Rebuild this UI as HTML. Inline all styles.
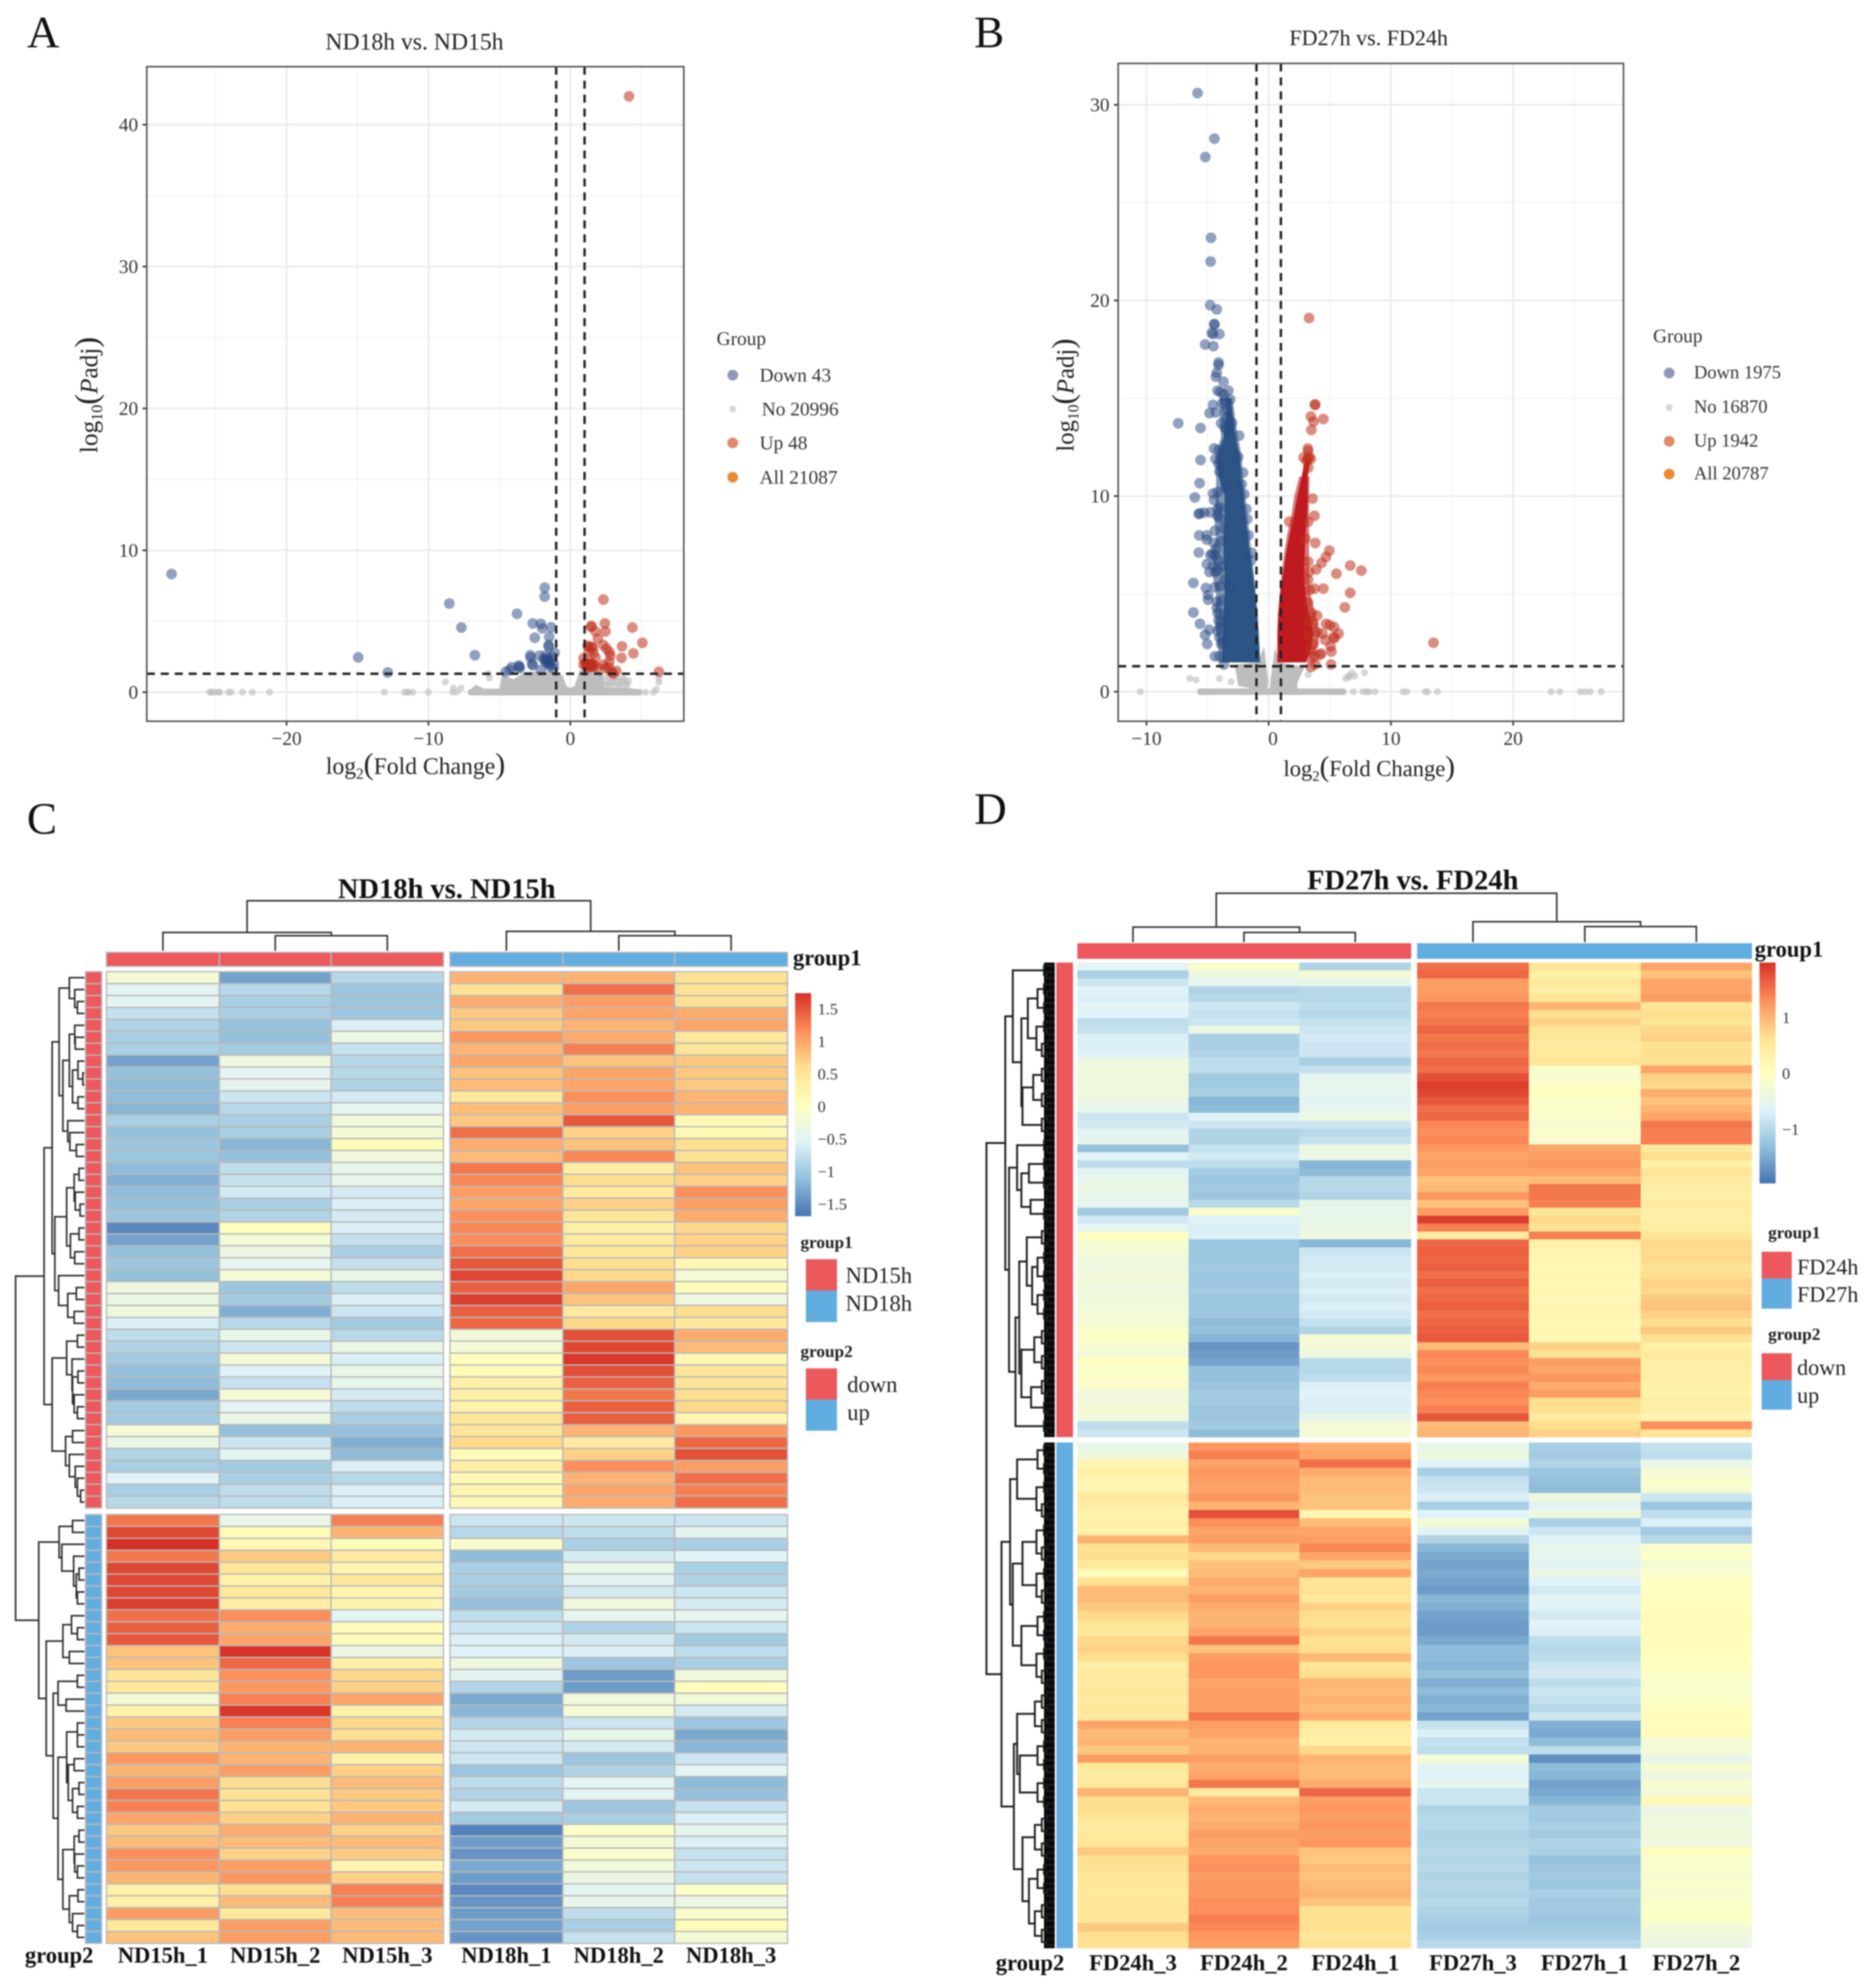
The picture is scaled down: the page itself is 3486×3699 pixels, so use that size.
<!DOCTYPE html>
<html lang="en">
<head>
<meta charset="utf-8">
<title>Volcano plots and heatmaps</title>
<style>
html,body{margin:0;padding:0;background:#fff;}
svg{display:block;filter:blur(1.3px);font-family:"Liberation Serif",serif;}
text{fill:#222;}
.tick{font-size:36px;fill:#333;}
.leg{font-size:36px;fill:#333;}
.legb{font-size:34.5px;fill:#333;}
.ttl{font-size:41px;fill:#222;text-anchor:middle;}
.axt{font-size:42px;fill:#222;text-anchor:middle;}
.letter{font-size:84px;fill:#111;}
.bold{font-weight:bold;fill:#111;}
.hmt{font-size:53px;font-weight:bold;text-anchor:middle;fill:#111;}
.coll{font-size:42px;font-weight:bold;text-anchor:middle;fill:#111;}
.lt{font-size:32px;font-weight:bold;fill:#222;}
.ll{font-size:42px;fill:#222;}
.cb{font-size:30px;fill:#333;}
</style>
</head>
<body>
<svg id="figure" xmlns="http://www.w3.org/2000/svg" width="3486" height="3699" viewBox="0 0 3486 3699">
<rect x="0" y="0" width="3486" height="3699" fill="#ffffff"/>

<text class="letter" x="50" y="88">A</text>
<text class="letter" x="1812" y="88">B</text>
<text class="letter" x="50" y="1551">C</text>
<text class="letter" x="1812" y="1533">D</text>

<g id="panelA"></g>
<text class="ttl" x="771" y="92" style="font-size:44px">ND18h vs. ND15h</text>
<text class="axt" x="773" y="1440" style="font-size:44px">log<tspan font-size="28" dy="9">2</tspan><tspan font-size="56" dy="-9">(</tspan>Fold Change<tspan font-size="56">)</tspan></text>
<text class="axt" transform="translate(181 735) rotate(-90)" style="font-size:47px">log<tspan font-size="30" dy="9">10</tspan><tspan font-size="60" dy="-9">(</tspan><tspan font-style="italic">P</tspan>adj<tspan font-size="60">)</tspan></text>
<g>
<text class="leg" x="1333" y="642">Group</text>
<circle cx="1363" cy="698" r="10" fill="#8F97BC"/>
<text class="leg" x="1413" y="710">Down 43</text>
<circle cx="1363" cy="761" r="6.5" fill="#D8D8D8"/>
<text class="leg" x="1417" y="773">No 20996</text>
<circle cx="1363" cy="824" r="10" fill="#DF8A6A"/>
<text class="leg" x="1413" y="836">Up 48</text>
<circle cx="1363" cy="888" r="10" fill="#EB8A35"/>
<text class="leg" x="1413" y="900">All 21087</text>
</g>

<g id="panelB"></g>
<text class="ttl" x="2546" y="84">FD27h vs. FD24h</text>
<text class="axt" x="2547" y="1444">log<tspan font-size="27" dy="9">2</tspan><tspan font-size="54" dy="-9">(</tspan>Fold Change<tspan font-size="54">)</tspan></text>
<text class="axt" transform="translate(1997 735) rotate(-90)" style="font-size:46px">log<tspan font-size="29" dy="9">10</tspan><tspan font-size="58" dy="-9">(</tspan><tspan font-style="italic">P</tspan>adj<tspan font-size="58">)</tspan></text>
<g>
<text class="leg" x="3075" y="637">Group</text>
<circle cx="3105" cy="694" r="10" fill="#8F97BC"/>
<text class="legb" x="3151" y="704">Down 1975</text>
<circle cx="3105" cy="758" r="6.5" fill="#D8D8D8"/>
<text class="legb" x="3151" y="768">No 16870</text>
<circle cx="3105" cy="821" r="10" fill="#DF8A6A"/>
<text class="legb" x="3151" y="831">Up 1942</text>
<circle cx="3105" cy="882" r="10" fill="#EB8A35"/>
<text class="legb" x="3151" y="892">All 20787</text>
</g>

<g id="panelC"></g>
<text class="hmt" x="831" y="1671">ND18h vs. ND15h</text>
<text class="coll bold" x="1475" y="1796" style="text-anchor:start">group1</text>
<text class="coll bold" x="110" y="3652">group2</text>
<g>
<text class="lt" x="1489" y="2322">group1</text>
<rect x="1499" y="2343" width="58" height="58" fill="#EC585C"/>
<rect x="1499" y="2401" width="58" height="59" fill="#62ADE0"/>
<text class="ll" x="1573" y="2387">ND15h</text>
<text class="ll" x="1573" y="2439">ND18h</text>
<text class="lt" x="1489" y="2525">group2</text>
<rect x="1499" y="2546" width="58" height="58" fill="#EC585C"/>
<rect x="1499" y="2604" width="58" height="58" fill="#62ADE0"/>
<text class="ll" x="1576" y="2590">down</text>
<text class="ll" x="1576" y="2642">up</text>
</g>

<g id="panelD"></g>
<text class="hmt" x="2628" y="1655">FD27h vs. FD24h</text>
<text class="coll bold" x="3264" y="1780" style="text-anchor:start">group1</text>
<text class="coll bold" x="1916" y="3666">group2</text>
<g>
<text class="lt" x="3289" y="2304">group1</text>
<rect x="3277" y="2329" width="56" height="50" fill="#EC585C"/>
<rect x="3277" y="2379" width="56" height="56" fill="#62ADE0"/>
<text class="ll" x="3343" y="2371" style="font-size:41px">FD24h</text>
<text class="ll" x="3343" y="2422" style="font-size:41px">FD27h</text>
<text class="lt" x="3289" y="2493">group2</text>
<rect x="3277" y="2518" width="56" height="50" fill="#EC585C"/>
<rect x="3277" y="2568" width="56" height="55" fill="#62ADE0"/>
<text class="ll" x="3343" y="2558" style="font-size:41px">down</text>
<text class="ll" x="3343" y="2610" style="font-size:41px">up</text>
</g>
</svg>

<script>
/* ---------- Panel A data ---------- */
const aXMajor=[-20,-10,0];
const aXMinor=[-25,-15,-5,5];
const aYMajor=[0,10,20,30,40];
const aYMinor=[5,15,25,35];
const aDown=[[-28.1,8.33],[-14.95,2.46],[-12.87,1.39],[-8.53,6.25],[-7.68,4.56],[-6.73,2.61],[-3.76,5.53],[-1.81,7.37],[-1.81,6.74],[-2.65,4.85],[-2.08,4.82],[-1.98,4.5],[-1.35,4.57],[-2.51,3.84],[-1.49,3.9],[-1.53,3.33],[-1.53,3.2],[-2.82,2.61],[-2.8,2.45],[-2.7,2.0],[-2.65,1.9],[-2.16,2.58],[-1.88,2.32],[-1.6,2.39],[-1.46,2.2],[-1.6,2.07],[-1.32,2.51],[-1.11,2.77],[-1.46,1.82],[-1.18,1.69],[-2.09,1.57],[-3.64,1.88],[-3.57,1.69],[-4.13,1.76],[-4.27,1.57],[-4.55,1.44],[-1.74,2.58],[-1.74,2.13],[-1.18,2.0],[-1.6,2.2],[-1.46,2.0],[-1.74,2.3],[-3.6,1.8]];
const aUp=[[4.13,42],[2.33,6.53],[2.43,4.85],[1.49,4.68],[4.37,4.56],[1.77,4.28],[2.47,4.28],[1.94,3.78],[5.07,3.48],[3.64,3.23],[1.21,3.27],[1.49,3.2],[2.33,3.33],[2.54,3.08],[4.44,2.74],[3.6,2.42],[2.75,2.83],[2.82,2.58],[1.63,2.77],[1.28,2.83],[0.93,2.39],[1.77,2.45],[2.75,2.13],[2.33,1.94],[1.07,2.07],[1.28,1.94],[1.49,2.0],[1.14,1.82],[1.63,1.82],[1.42,1.76],[1.91,1.76],[0.93,1.94],[2.47,1.69],[2.68,1.76],[2.89,1.44],[3.24,1.5],[3.03,1.31],[6.24,1.44],[1.2,2.0],[1.35,1.9],[1.5,1.85],[1.25,1.8],[1.45,2.05],[1.6,1.95],[1.1,1.95],[1.3,3.2],[1.6,3.15],[1.45,4.6]];
const aNo=[[-25.4,0],[-25.3,0],[-25.1,0],[-24.8,0],[-24.7,0],[-24.1,0],[-23.9,0],[-23.1,0],[-22.4,0],[-21.2,0],[-13.1,0],[-11.7,0],[-11.5,0],[-11.4,0],[-11.1,0],[-10,0],[-8.8,0.72],[-8.3,0],[-8.25,0.3],[-7.7,0.3],[-8,0.02],[-5.77,1.31],[-5.7,1.0],[5.3,0],[5.85,0],[6.05,0.2],[6.24,0.95],[6.24,0.7],[3.2,1.1],[3.5,0.8],[3.7,1.0],[3.9,0.6],[3.4,0.5],[3.0,1.0],[2.8,0.7],[4.0,0.5],[2.6,1.1],[2.5,0.8],[2.7,0.45],[3.1,0.45],[3.3,0.75],[3.6,0.45],[2.9,1.25],[3.8,0.85],[2.55,0.5],[3.0,0.7],[4.1,0.8]];
const aNoMoundX=[-7,-6.94,-6.66,-6.1,-5.0,-4.83,-3.99,-3.15,-1.18,-0.55,-0.27,0,0.29,0.65,2.19,2.33,2.4,4.16,4.86,4.86];
const aNoMoundY=[0,0.3,0.53,0.25,0.25,1.19,0.93,1.44,1.44,1.19,0.43,0.3,0.43,1.56,1.44,1.25,0.3,0.3,0.18,0];

/* ---------- Panel B data ---------- */
const bXMajor=[-10,0,10,20];
const bXMinor=[-5,5,15,25];
const bYMajor=[0,10,20,30];
const bYMinor=[5,15,25];
const bDown=[[-5.82,30.6],[-4.44,28.27],[-5.18,27.33],[-4.72,23.2],[-4.75,21.99],[-4.79,19.76],[-4.25,19.54],[-4.46,18.79],[-4.43,18.77],[-4.66,18.34],[-4.03,18.28],[-4.55,18.28],[-5.2,17.75],[-4.52,17.66],[-4.1,16.83],[-4.1,16.7],[-4.25,16.3],[-4.33,16.1],[-3.7,15.85],[-3.96,15.32],[-3.3,15.39],[-3.67,15.2],[-4.18,15.39],[-3.15,14.93],[-4.55,14.66],[-3.81,14.73],[-4.84,14.24],[-4.33,14.27],[-3.45,14.4],[-3.6,14.9],[-3.4,14.0],[-7.4,13.72],[-5.57,13.48],[-3.89,13.72],[-3.0,13.74],[-2.42,13.09],[-3.37,13.35],[-3.6,13.5],[-4.47,12.43],[-4.1,12.37],[-2.49,12.0],[-5.57,11.84],[-5.65,10.66],[-6.04,9.93],[-4.55,10.13],[-4.18,10.2],[-4.47,9.8],[-5.72,9.08],[-5.65,9.12],[-5.28,9.15],[-4.77,9.17],[-4.18,9.34],[-1.83,9.34],[-1.76,8.82],[-3.96,8.88],[-5.69,7.99],[-5.06,7.99],[-5.06,7.77],[-4.4,8.23],[-4.47,7.6],[-5.72,7.11],[-4.62,7.04],[-4.77,6.98],[-4.4,6.98],[-1.39,7.11],[-5.06,6.52],[-4.84,6.12],[-4.4,6.12],[-4.18,6.19],[-4.55,6.45],[-6.16,5.56],[-5.13,5.3],[-4.4,5.34],[-3.96,5.4],[-3.23,5.34],[-4.96,4.94],[-4.96,4.7],[-6.16,4.05],[-4.25,4.28],[-4.18,4.02],[-3.67,3.96],[-3.81,3.56],[-5.62,3.47],[-4.87,3.17],[-4.18,3.1],[-5.2,2.9],[-4.03,2.77],[-5.03,2.44],[-3.74,2.58],[-4.4,1.81],[-4.03,1.81],[-3.67,1.39],[-4.03,11.25],[-4.1,11.64],[-3.52,10.46],[-3.96,9.41],[-3.67,8.36],[-3.81,7.7],[-3.74,6.39],[-3.59,5.73],[-3.81,4.68],[-4.1,3.63],[-3.89,2.44],[-4.2,9.0],[-4.3,7.3],[-4.1,6.7],[-4.25,4.6],[-4.0,3.3],[-4.35,11.9],[-2.2,10.6],[-2.0,10.1],[-1.65,8.0],[-1.45,6.7],[-2.1,11.2]];
const bDownHaloY=[1.5,2,3,4,5,6,7,8,9,10,11,12,13,14,15];
const bDownHaloLeft=[-4.1,-4.1,-4.3,-4.4,-4.3,-4.6,-4.6,-4.3,-4.5,-4.3,-4.3,-4.4,-3.9,-4.0,-4.0];
const bDownHaloRight=[-0.7,-0.72,-0.8,-0.9,-1.05,-1.2,-1.4,-1.55,-1.75,-1.9,-2.1,-2.2,-2.5,-2.75,-2.95];
const bDownCoreY=[1.5,2,3,4,5,6,7,8,9,10,11,12,13,14,15];
const bDownCoreLeft=[-3.85,-3.8,-3.75,-3.7,-3.6,-3.6,-3.7,-3.7,-3.6,-3.6,-4.1,-4.25,-3.7,-3.5,-3.4];
const bDownCoreRight=[-0.73,-0.76,-0.85,-0.95,-1.1,-1.3,-1.55,-1.7,-1.9,-2.05,-2.27,-2.35,-2.7,-2.9,-3.1];
const bUp=[[3.3,19.1],[3.81,14.66],[3.78,14.68],[3.45,14.07],[4.47,13.94],[3.67,13.81],[3.49,13.38],[3.2,12.43],[3.23,12.3],[3.2,11.9],[2.86,11.97],[3.45,11.9],[3.23,11.45],[3.1,11.8],[3.3,12.0],[3.59,9.87],[3.74,8.99],[3.81,7.6],[4.96,7.21],[4.69,6.89],[4.33,6.58],[3.89,6.25],[3.3,6.12],[3.23,6.65],[1.69,8.69],[6.67,6.45],[7.58,6.19],[5.54,6.03],[6.67,5.05],[6.23,4.31],[4.47,5.27],[3.74,5.27],[3.23,5.73],[3.37,5.2],[3.96,3.89],[3.52,4.02],[4.69,3.47],[5.35,3.3],[5.72,2.97],[5.28,2.77],[5.06,2.31],[5.13,2.05],[4.18,1.89],[5.1,1.39],[4.62,2.64],[3.96,3.04],[3.67,3.5],[3.23,2.9],[3.23,3.63],[3.67,2.44],[3.37,2.12],[3.74,1.79],[3.45,1.26],[4.4,2.97],[3.81,1.39],[3.23,4.55],[3.0,7.83],[3.23,8.69],[13.48,2.5],[5.0,3.4],[5.4,2.75],[4.3,1.95]];
const bUpHaloY=[1.5,2,3,4,5,6,7,8,9,10,11];
const bUpHaloLeft=[0.7,0.7,0.7,0.75,0.9,1.05,1.25,1.5,1.85,2.1,2.5];
const bUpHaloRight=[3.8,3.9,4.2,3.8,3.4,3.3,3.3,3.3,3.3,3.3,3.35];
const bUpCoreY=[1.5,2,3,4,5,6,7,8,9,10,11,11.8];
const bUpCoreLeft=[0.73,0.73,0.73,0.8,0.95,1.17,1.4,1.7,2.05,2.35,2.7,2.95];
const bUpCoreRight=[3.0,3.4,3.66,3.3,3.0,2.9,2.95,3.0,3.15,3.2,3.2,3.4];
const bNo=[[-10.5,0],[6.94,0],[7.7,0],[8.0,0],[8.2,0],[8.7,0],[11,0],[11.3,0],[12.8,0],[13,0],[13.8,0],[23.1,0],[23.8,0],[25.5,0],[25.9,0],[26.3,0],[27.2,0],[-6.45,0.67],[-5.94,0.6],[-4.03,0.67],[-3.08,0.51],[3.23,0.87],[6.3,0.67],[6.52,0.8],[6.82,0.97],[7.04,0.8],[7.84,0.97],[6.6,0.75]];
const bNoLeftX=[-2.79,-0.9,-0.37,-0.03,-0.18,-2.49];
const bNoLeftY=[1.39,1.5,2.3,0.47,0,0.3];
const bNoRightX=[0.15,0.51,0.9,2.93,2.35,2.35,0.1];
const bNoRightY=[0.6,2.25,1.5,1.26,0.47,0.1,0];

/* ---------- Panel C data (z-scores, six samples per gene) ---------- */
const cColumns=['ND15h_1','ND15h_2','ND15h_3','ND18h_1','ND18h_2','ND18h_3'];
const cDownRows=[
[-0.2,-1.35,-0.85,0.9,0.9,0.55],[-0.5,-0.85,-1.05,0.55,1.35,0.55],[-0.5,-0.95,-1.05,0.95,1.05,0.55],
[-0.75,-0.95,-1.05,0.75,1.0,0.95],[-0.9,-1.1,-0.6,0.75,0.9,1.0],[-0.95,-1.1,-0.35,1.1,0.95,0.45],
[-0.95,-1.0,-0.75,0.9,1.25,0.5],[-1.35,-0.3,-0.85,1.0,0.8,0.75],[-1.1,-0.5,-0.85,0.8,1.0,0.75],
[-1.15,-0.45,-0.9,0.85,1.0,0.75],[-1.15,-0.7,-0.65,0.45,1.15,0.9],[-1.2,-0.85,-0.45,0.85,1.05,0.9],
[-0.95,-0.95,-0.25,0.75,1.5,0.15],[-1.1,-0.95,-0.2,1.35,0.7,0.15],[-1.05,-1.2,0.1,0.95,0.8,0.6],
[-1.05,-1.1,-0.25,0.85,1.2,0.55],[-1.15,-0.8,-0.4,1.3,0.35,0.8],[-1.25,-0.75,-0.4,1.2,0.6,0.7],
[-1.15,-0.65,-0.65,1.05,0.4,1.15],[-1.1,-0.95,-0.6,1.0,0.7,1.05],[-1.05,-0.9,-0.65,1.15,0.5,0.95],
[-1.55,0.05,-0.6,1.2,0.3,0.65],[-1.35,-0.2,-0.75,1.15,0.4,0.7],[-1.1,-0.35,-0.95,1.35,0.45,0.7],
[-1.05,-0.45,-0.75,1.5,0.6,0.15],[-1.1,-0.2,-0.4,1.6,0.65,-0.2],[-0.3,-1.05,-0.8,1.45,1.0,0.1],
[-0.35,-1.0,-0.6,1.65,0.8,-0.3],[-0.3,-1.25,-0.7,1.45,0.4,0.6],[-0.6,-0.85,-1.0,1.4,0.65,0.45],
[-0.8,-0.4,-0.85,-0.25,1.55,0.95],[-0.9,-0.7,-0.35,-0.2,1.6,0.85],[-1.0,-0.2,-0.6,0.05,1.7,0.15],
[-1.1,-0.55,-0.4,0.1,1.55,0.5],[-1.15,-0.75,-0.4,0.3,1.45,0.5],[-1.3,-0.2,-0.65,0.3,1.3,0.6],
[-1.0,-0.5,-0.8,0.25,1.45,0.65],[-1.0,-0.35,-0.95,0.5,1.45,0.2],[-0.2,-1.1,-1.1,0.5,0.9,1.1],
[-0.35,-0.7,-1.25,0.65,0.4,1.4],[-0.9,-0.5,-1.15,0.1,0.7,1.55],[-0.95,-1.0,-0.6,0.35,1.15,1.05],
[-0.55,-0.95,-0.85,0.15,0.9,1.35],[-0.95,-0.8,-0.6,0.2,1.0,1.25],[-0.85,-0.8,-0.6,0.15,0.95,1.35]];
const cUpRows=[
[1.3,-0.4,1.25,-0.7,-0.7,-0.7],[1.6,0.1,0.9,-0.85,-0.8,-0.5],[1.75,0.15,0.1,-0.1,-0.95,-0.95],
[1.3,0.75,0.4,-1.15,-0.65,-0.55],[1.6,0.5,0.2,-0.95,-0.4,-0.95],[1.6,0.25,0.45,-0.95,-0.5,-0.9],
[1.6,0.45,0.2,-1.0,-0.65,-0.7],[1.65,0.35,0.2,-1.1,-0.25,-0.65],[1.35,1.15,-0.5,-0.8,-0.45,-0.45],
[1.45,0.95,0.1,-0.7,-0.9,-0.7],[1.5,1.0,0.1,-0.6,-0.65,-1.0],[0.8,1.72,-0.35,-0.55,-0.6,-0.8],
[0.8,1.4,0.3,-0.3,-1.05,-0.95],[0.5,1.15,0.65,-0.5,-1.4,-0.25],[0.45,1.1,0.7,-0.9,-1.4,0.05],
[-0.2,1.25,1.0,-1.3,-0.25,-0.25],[0.25,1.7,0.25,-1.2,-0.2,-0.65],[0.75,1.25,0.65,-0.9,-0.7,-1.05],
[0.85,1.05,0.6,-0.65,-0.4,-1.3],[0.75,0.9,0.9,-0.7,-0.65,-1.2],[1.1,0.9,0.3,-0.7,-1.05,-0.7],
[0.9,1.05,0.7,-1.05,-0.9,-0.5],[1.05,0.6,0.85,-0.8,-0.5,-1.15],[1.3,0.55,0.75,-0.9,-0.5,-1.1],
[1.25,0.55,0.75,-0.65,-1.05,-0.75],[1.0,0.7,0.9,-1.0,-0.95,-0.6],[0.75,0.95,0.7,-1.6,-0.05,-0.45],
[0.85,0.85,0.85,-1.4,-0.2,-0.6],[1.15,0.7,0.75,-1.45,-0.1,-0.75],[1.1,1.05,0.2,-1.3,-0.25,-0.7],
[0.9,1.1,0.7,-1.4,-0.35,-0.75],[0.3,0.6,1.25,-1.55,-0.5,-0.05],[0.3,0.85,1.25,-1.45,-0.4,-0.35],
[1.05,0.45,0.85,-1.4,-0.8,-0.1],[0.45,1.05,0.85,-1.35,-0.95,0.1],[0.8,1.05,0.85,-1.45,-0.75,-0.2]];
const cScaleTicks=[1.5,1,0.5,0,-0.5,-1,-1.5];

/* ---------- Panel D data (binned colour-scale values, one array per sample) ---------- */
const dColumns=['FD24h_3','FD24h_2','FD24h_1','FD27h_3','FD27h_1','FD27h_2'];
const dDownFD24h3=[-0.5,-0.95,-0.7,-0.55,-0.6,-0.5,-0.55,-0.8,-0.75,-0.6,-0.6,-0.55,-0.3,-0.25,-0.3,-0.3,-0.25,-0.35,-0.4,-0.7,-0.65,-0.5,-0.45,-1.1,-0.55,-0.8,-0.5,-0.4,-0.35,-0.4,-0.45,-1.0,-0.65,-0.5,0,-0.15,-0.2,-0.25,-0.3,-0.25,-0.25,-0.3,-0.25,-0.25,-0.2,-0.2,-0.1,-0.05,-0.15,-0.2,0,-0.1,-0.05,-0.1,-0.25,-0.25,-0.2,-0.25,-0.8,-0.7];
const dDownFD24h2=[-0.1,-0.3,-0.45,-0.9,-0.85,-0.7,-0.75,-0.7,-0.35,-0.95,-0.95,-0.9,-0.8,-0.8,-1.0,-1.0,-0.95,-1.2,-1.15,-0.55,-0.7,-0.9,-0.9,-0.75,-0.65,-0.8,-1.0,-1.05,-1.0,-1.05,-0.85,-0.1,-0.55,-0.6,-0.6,-1.05,-1.05,-1.05,-1.0,-1.05,-1.05,-1.0,-1.05,-1.05,-1.05,-1.15,-1.1,-1.2,-1.45,-1.4,-1.35,-1.1,-1.1,-1.05,-1.0,-1.0,-1.05,-1.05,-1.0,-1.15];
const dDownFD24h1=[-0.9,-0.2,-0.4,-0.85,-0.85,-0.8,-0.85,-0.75,-0.7,-0.65,-0.7,-0.7,-0.95,-0.75,-0.45,-0.45,-0.45,-0.5,-0.45,-0.3,-0.7,-0.85,-0.75,-0.3,-0.35,-1.2,-1.15,-0.85,-0.85,-0.9,-0.4,-0.4,-0.4,-0.35,-0.3,-1.2,-0.7,-0.65,-0.65,-0.6,-0.65,-0.6,-0.65,-0.6,-0.65,-0.75,-0.9,-0.2,-0.2,-0.3,-0.85,-0.85,-0.8,-0.6,-0.55,-0.6,-0.6,-0.4,-0.2,-0.2];
const dDownFD27h3=[1.35,1.4,1.05,1.05,1.1,1.3,1.25,1.3,1.4,1.3,1.35,1.3,1.4,1.35,1.55,1.65,1.6,1.5,1.35,1.4,1.2,1.15,1.2,1.1,1.0,1.05,1.0,0.8,0.85,1.1,0.8,1.05,1.65,1.25,0.4,1.4,1.45,1.4,1.45,1.35,1.45,1.35,1.4,1.45,1.35,1.4,1.45,1.5,0.85,1.2,1.15,1.2,1.1,1.25,1.2,1.15,1.25,1.5,0.85,0.9];
const dDownFD27h1=[0.5,0.3,0.45,0.35,0.5,0.9,0.6,0.7,0.5,0.45,0.4,0.45,0.5,-0.1,-0.15,-0.05,0,-0.05,-0.05,-0.1,-0.15,-0.1,-0.15,1.0,1.05,1.1,1.0,0.85,1.3,1.3,1.25,0.5,0.65,0.55,1.25,0.3,0.2,0.2,0.15,0.2,0.15,0.2,0.15,0.2,0.2,0.15,0.2,0.15,0.7,0.55,1.05,1.0,1.1,0.95,1.05,0.6,0.55,0.4,0.6,0.7];
const dDownFD27h2=[1.0,0.8,1.0,1.0,1.05,0.5,0.6,0.5,0.65,0.7,0.55,0.6,0.55,1.0,0.7,0.65,0.95,0.8,0.9,1.0,1.3,1.25,1.25,0.4,0.6,0.3,0.5,0.4,0.35,0.3,0.4,0.35,0.3,0.35,0.5,0.65,0.6,0.65,0.55,0.6,0.7,0.65,0.75,0.8,0.7,0.6,0.75,0.55,0.3,0.4,0.35,0.3,0.35,0.3,0.25,0.35,0.3,0.2,1.15,0.5];
const dUpFD24h3=[-0.4,-0.3,0.2,0.3,0.2,0.2,0.45,0.35,0.25,0.3,0.25,0.9,0.55,0.6,0.45,0.1,0.55,0.85,0.85,0.75,0.65,0.5,0.45,0.65,0.7,0.6,0.35,0.45,0.4,0.45,0.4,0.45,0.4,1.0,0.85,0.9,0.75,1.05,0.45,0.4,0.45,0.9,0.6,0.6,0.5,0.4,0.45,0.5,0.75,0.6,0.55,0.5,0.5,0.45,0.45,0.5,0.45,0.75,0.6,0.55];
const dUpFD24h2=[1.1,1.25,1.0,1.1,1.05,1.0,1.1,0.9,1.55,1.15,1.0,1.05,0.85,0.65,0.8,0.85,0.95,0.9,1.05,0.95,0.9,0.9,1.0,1.3,0.8,1.05,1.1,1.1,1.0,1.05,1.05,1.05,1.3,1.05,1.0,0.9,0.9,1.05,0.95,1.0,1.3,0.4,0.85,0.95,0.9,0.95,1.05,1.0,0.95,1.1,1.15,1.05,1.1,1.1,1.15,1.15,1.25,1.2,1.1,1.05];
const dUpFD24h1=[0.95,1.0,1.35,0.95,0.85,0.85,0.8,0.8,0.2,0.85,1.0,1.05,1.2,1.0,0.75,1.0,0.5,0.55,0.45,0.7,0.6,0.55,0.7,0.55,0.6,0.85,0.5,0.6,0.9,0.85,0.9,0.85,0.95,0.45,0.35,0.3,0.65,0.9,0.85,0.85,0.95,1.4,1.05,1.1,1.05,1.1,1.05,1.1,0.8,0.75,0.85,0.8,0.85,0.9,0.8,0.55,0.55,0.6,0.5,0.55];
const dUpFD27h3=[-0.4,-0.3,-0.55,-0.95,-0.75,-0.7,-0.6,-0.95,-0.55,-0.2,-0.5,-0.9,-1.2,-1.3,-1.35,-1.3,-1.35,-1.4,-1.2,-1.25,-1.35,-1.4,-1.4,-1.3,-1.15,-1.15,-1.2,-1.1,-1.25,-1.15,-1.25,-1.2,-1.35,-0.75,-0.6,-0.75,-0.8,-0.2,-0.5,-0.55,-0.45,-0.7,-0.7,-0.9,-0.85,-0.85,-0.9,-0.9,-0.85,-0.9,-0.85,-0.9,-0.85,-0.9,-0.85,-0.9,-0.95,-1.0,-0.95,-0.85];
const dUpFD27h1=[-0.95,-1.0,-0.9,-1.05,-1.1,-1.15,-0.3,-0.5,-0.3,-0.95,-0.7,-0.55,-0.4,-0.45,-0.5,-0.35,-0.55,-0.65,-0.5,-0.55,-0.65,-0.55,-0.6,-0.8,-0.85,-0.8,-0.7,-0.65,-0.8,-0.7,-0.75,-0.85,-0.7,-1.25,-1.3,-1.15,-0.8,-1.5,-1.15,-1.2,-1.35,-1.3,-1.2,-1.0,-1.0,-0.95,-1.0,-0.9,-0.95,-1.1,-1.05,-1.0,-1.05,-0.95,-1.0,-1.0,-1.05,-1.0,-0.95,-0.85];
const dUpFD27h2=[-0.75,-0.8,-0.4,-0.2,-0.1,-0.15,-0.7,-1.05,-0.8,-0.6,-1.0,-0.85,-0.1,-0.05,-0.2,-0.1,0,0,0.05,0.05,0.1,0.1,0.1,0.05,0.1,0.05,0,-0.05,-0.1,-0.1,-0.05,0,0.1,0.05,0.1,-0.2,-0.2,-0.4,-0.15,-0.3,-0.15,-0.2,0.15,-0.35,-0.3,-0.3,-0.25,-0.3,0.05,-0.1,-0.1,-0.15,-0.1,-0.15,-0.1,-0.05,-0.05,-0.2,-0.3,-0.35];
const dDownSeries=[dDownFD24h3,dDownFD24h2,dDownFD24h1,dDownFD27h3,dDownFD27h1,dDownFD27h2];
const dUpSeries=[dUpFD24h3,dUpFD24h2,dUpFD24h1,dUpFD27h3,dUpFD27h1,dUpFD27h2];
const dScaleTicks=[1,0,-1];

/* ---------- Dendrogram merge trees: [height, childA, childB]; 0 is a leaf ---------- */
const cRowTree=[128,
 [75,
  [60,
   [47,
    [28,0,[18,0,[13,0,0]]],
    [40,[28,[18,0,[17,0,0]],[22,[12,0,[3,0,0]],[12,0,0]]],[31,0,[27,0,[15,0,0]]]]],
   [55,
    [33,[19,[10,0,0],[17,0,[8,0,0]]],[26,[10,0,0],[18,0,0]]],
    [48,0,[31,[15,0,0],[19,0,0]]]]],
  [60,
   [33,[13,0,0],[23,0,[22,[12,0,0],[19,0,[13,0,0]]]]],
   [35,[22,0,0],[28,0,[17,0,[13,0,[7,0,0]]]]]]],
 [85,
  [47,[22,0,0],[42,0,[20,0,[15,[10,0,0],[13,0,0]]]]],
  [71,
   [40,[24,0,[13,0,0]],[28,0,0]],
   [58,
    [49,[13,0,0],[34,0,0]],
    [49,
     [33,[13,0,[13,0,0]],[30,[19,0,0],[22,[10,0,0],[13,0,0]]]],
     [40,[19,[10,0,0],[18,0,[13,0,0]]],[28,[12,0,0],[22,0,[13,0,0]]]]]]]]];
const cColTree=[93,[34,0,[28,0,0]],[36,0,[28,0,0]]];
const dColTree=[91,[28,0,[18,0,0]],[38,0,[29,0,0]]];
const c2=[14,0,0];
const c3=[20,0,c2];
const c4=[24,c2,c2];
const c5=[28,c2,c3];
const c6=[32,c3,c3];
const c7=[34,c3,c4];
const c8=[37,c4,c4];
const dRowTreeDown=[92,
 [78,c3,[62,[50,c6,c7],[60,[40,c4,c4],c4]]],
 [85,[70,c3,[62,[48,c3,c3],[45,c2,c3]]],
  [73,[66,[52,c4,[42,c6,c6]],[62,[38,c4,c4],[44,c4,c3]]],c3]]];
const dRowTreeUp=[99,
 [83,[70,c6,c7],[78,[60,c7,c7],[62,c6,c7]]],
 [76,[70,c8,[65,c6,c6]],[60,c8,[48,c6,c8]]]];

/* ---------- Colour scale ---------- */
const palette=[[69,117,180],[145,191,219],[224,243,248],[255,255,191],[254,224,144],[252,141,89],[215,48,39]];
const colorMin=-1.7;
const colorMax=1.74;
function colorFor(v){
  const t=Math.max(0,Math.min(0.9999,(v-colorMin)/(colorMax-colorMin)))*6;
  const i=Math.floor(t),f=t-i,a=palette[i],b=palette[i+1];
  return 'rgb('+[0,1,2].map(k=>Math.round(a[k]+(b[k]-a[k])*f)).join(',')+')';
}

/* ---------- Helpers ---------- */
const NS='http://www.w3.org/2000/svg';
function make(tag,attrs,parent){
  const el=document.createElementNS(NS,tag);
  for(const k in attrs)el.setAttribute(k,attrs[k]);
  parent.appendChild(el);
  return el;
}
function tickText(v){return v<0?'\u2212'+Math.abs(v):String(v);}

function drawVolcano(p){
  const g=p.g,xS=p.xS,yS=p.yS,f=p.frame;
  make('rect',{x:f[0],y:f[1],width:f[2]-f[0],height:f[3]-f[1],fill:'#fff'},g);
  p.yMinor.forEach(v=>{
    const l=make('line',{x1:f[0],x2:f[2],y1:yS(v),y2:yS(v),stroke:'#F4F4F4','stroke-width':2.5},g);
    
    
  });
  p.xMinor.forEach(v=>{
    const l=make('line',{y1:f[1],y2:f[3],x1:xS(v),x2:xS(v),stroke:'#F4F4F4','stroke-width':2.5},g);
    
    
  });
  p.yMajor.forEach(v=>{
    const l=make('line',{x1:f[0],x2:f[2],y1:yS(v),y2:yS(v),stroke:'#EBEBEB','stroke-width':3.5},g);
    
    
    const t=make('line',{x1:f[0]-8,x2:f[0],y1:yS(v),y2:yS(v),stroke:'#333','stroke-width':3},g);
    
    
    const s=make('text',{x:f[0]-16,y:yS(v)+12,'text-anchor':'end','class':'tick'},g);
    s.textContent=tickText(v);
    
    
  });
  p.xMajor.forEach(v=>{
    const l=make('line',{y1:f[1],y2:f[3],x1:xS(v),x2:xS(v),stroke:'#EBEBEB','stroke-width':3.5},g);
    
    
    const t=make('line',{y1:f[3],y2:f[3]+8,x1:xS(v),x2:xS(v),stroke:'#333','stroke-width':3},g);
    
    
    const s=make('text',{x:xS(v)+(v===0?p.zeroDx:0),y:f[3]+44,'text-anchor':'middle','class':'tick'},g);
    s.textContent=tickText(v);
    
    
  });
  p.greyAreas.forEach(a=>{
    const pts=a[0].map((x,i)=>xS(x)+','+yS(a[1][i])).join(' ');
    const m=make('polygon',{points:pts,fill:'#BDBDBD'},g);
    
    
  });
  const band=make('line',{x1:xS(p.band[0]),x2:xS(p.band[1]),y1:yS(0),y2:yS(0),stroke:'#BDBDBD','stroke-width':12,'stroke-linecap':'round'},g);
  
  
  p.no.forEach(d=>{
    const c=make('circle',{cx:xS(d[0]),cy:yS(d[1]),r:6.5,fill:'#BDBDBD','fill-opacity':0.6},g);
    
    
  });
  (p.halos||[]).forEach(a=>{
    const left=a[0].map((y,i)=>xS(a[1][i])+','+yS(y));
    const right=a[0].map((y,i)=>xS(a[2][i])+','+yS(y)).reverse();
    const m=make('polygon',{points:left.concat(right).join(' '),fill:a[3],'fill-opacity':0.6},g);
    
    
  });
  (p.cores||[]).forEach(a=>{
    const left=a[0].map((y,i)=>xS(a[1][i])+','+yS(y));
    const right=a[0].map((y,i)=>xS(a[2][i])+','+yS(y)).reverse();
    const m=make('polygon',{points:left.concat(right).join(' '),fill:a[3]},g);
    
    
  });
  p.down.forEach(d=>{
    const c=make('circle',{cx:xS(d[0]),cy:yS(d[1]),r:10,fill:'#2C4A84','fill-opacity':0.52},g);
    
    
  });
  p.up.forEach(d=>{
    const c=make('circle',{cx:xS(d[0]),cy:yS(d[1]),r:10,fill:'#C0301C','fill-opacity':0.55},g);
    
    
  });
  [-1,1].forEach(v=>{
    const l=make('line',{x1:xS(v),x2:xS(v),y1:f[1],y2:f[3],stroke:'#222','stroke-width':4.5,'stroke-dasharray':'15 11'},g);
    
    
  });
  const h=make('line',{x1:f[0],x2:f[2],y1:yS(1.3),y2:yS(1.3),stroke:'#222','stroke-width':4.5,'stroke-dasharray':'15 11'},g);
  
  
  const fr=make('rect',{x:f[0],y:f[1],width:f[2]-f[0],height:f[3]-f[1],fill:'none',stroke:'#555','stroke-width':3},g);
  
  
}

function treePath(tree,leafPos,toXY){
  let i=0,d='';
  function walk(n){
    if(n===0)return {p:leafPos(i++),h:0};
    const a=walk(n[1]),b=walk(n[2]);
    const A=toXY(a.h,a.p),B=toXY(n[0],a.p),C=toXY(n[0],b.p),D=toXY(b.h,b.p);
    d+='M'+A+'L'+B+'L'+C+'L'+D;
    return {p:(a.p+b.p)/2,h:n[0]};
  }
  walk(tree);
  return d;
}
function countLeaves(n){return n===0?1:countLeaves(n[1])+countLeaves(n[2]);}

function drawColorbar(g,id,x,y0,y1,ticks,tickY,lx){
  const defs=make('defs',{},g);
  const lg=make('linearGradient',{id:id,x1:0,y1:1,x2:0,y2:0},defs);
  palette.forEach((c,i)=>{
    make('stop',{offset:(i/6*100)+'%','stop-color':'rgb('+c.join(',')+')'},lg);
  });
  const r=make('rect',{x:x,y:y0,width:30,height:y1-y0,fill:'url(#'+id+')'},g);
  
  
  ticks.forEach(v=>{
    const t=make('text',{x:lx,y:tickY(v)+10,'class':'cb'},g);
    t.textContent=tickText(v);
    
    
  });
}

/* ---------- Draw volcano panels ---------- */
const xScaleA=v=>1061+v*26.4;
const yScaleA=v=>1288-v*26.4;
const xScaleB=v=>2360+v*22.74;
const yScaleB=v=>1287-v*36.4;
drawVolcano({g:document.getElementById('panelA'),xS:xScaleA,yS:yScaleA,frame:[273,124,1272,1342],zeroDx:0,
  xMajor:aXMajor,xMinor:aXMinor,yMajor:aYMajor,yMinor:aYMinor,
  greyAreas:[[aNoMoundX,aNoMoundY]],band:[-7,4.86],no:aNo,down:aDown,up:aUp});
drawVolcano({g:document.getElementById('panelB'),xS:xScaleB,yS:yScaleB,frame:[2080,118,3020,1342],zeroDx:8,
  xMajor:bXMajor,xMinor:bXMinor,yMajor:bYMajor,yMinor:bYMinor,
  greyAreas:[[bNoLeftX,bNoLeftY],[bNoRightX,bNoRightY]],band:[-5.6,6.1],no:bNo,down:bDown,up:bUp,
  halos:[[bDownHaloY,bDownHaloLeft,bDownHaloRight,'#2C5484'],[bUpHaloY,bUpHaloLeft,bUpHaloRight,'#BF1A20']],
  cores:[[bDownCoreY,bDownCoreLeft,bDownCoreRight,'#2C5484'],[bUpCoreY,bUpCoreLeft,bUpCoreRight,'#BF1A20']]});

/* ---------- Panel C heatmap ---------- */
(function(){
  const g=document.getElementById('panelC');
  const colEdges=[198,408,616,837,1047,1255];
  const colW=[210,208,209,210,208,210];
  const centers=colEdges.map((x,i)=>x+colW[i]/2);
  const blocks=[{rows:cDownRows,top:1808,h:998,fill:'#EC585C',name:'down'},{rows:cUpRows,top:2818,h:798,fill:'#62ADE0',name:'up'}];
  blocks.forEach(b=>{
    const rh=b.h/b.rows.length;
    b.rows.forEach((row,r)=>{
      const y=b.top+r*rh;
      const an=make('rect',{x:159,y:y,width:30,height:rh,fill:b.fill,stroke:'#B9B9B9','stroke-width':2.5},g);
      
      
      row.forEach((v,c)=>{
        const cell=make('rect',{x:colEdges[c],y:y,width:colW[c],height:rh,fill:colorFor(v),stroke:'#B9B9B9','stroke-width':2.5},g);
        
        
      });
    });
  });
  cColumns.forEach((name,c)=>{
    const a=make('rect',{x:colEdges[c],y:1772,width:colW[c],height:26,fill:c<3?'#EC585C':'#62ADE0',stroke:'#B9B9B9','stroke-width':2.5},g);
    
    
    const t=make('text',{x:centers[c],y:3652,'class':'coll'},g);
    t.textContent=name;
    
    
  });
  const top=make('path',{d:treePath(cColTree,i=>centers[i],(h,p)=>p+' '+(1769-h)+' '),fill:'none',stroke:'#333','stroke-width':3},g);
  
  
  const n1=cDownRows.length,rh1=998/n1,rh2=798/cUpRows.length;
  const leaf=i=>i<n1?1808+(i+0.5)*rh1:2818+(i-n1+0.5)*rh2;
  const side=make('path',{d:treePath(cRowTree,leaf,(h,p)=>(157-h)+' '+p+' '),fill:'none',stroke:'#2b2b2b','stroke-width':3},g);
  
  
  const tickY=v=>2059-v*121;
  drawColorbar(g,'cbC',1479,1848,2263,cScaleTicks,tickY,1521);
})();

/* ---------- Panel D heatmap ---------- */
(function(){
  const g=document.getElementById('panelD');
  const colEdges=[2004,2211,2417,2636,2844,3052];
  const colW=[207,206,208,208,208,207];
  const centers=colEdges.map((x,i)=>x+colW[i]/2);
  const blocks=[{series:dDownSeries,top:1791,h:883,fill:'#EC585C',name:'down'},{series:dUpSeries,top:2684,h:941,fill:'#62ADE0',name:'up'}];
  blocks.forEach(b=>{
    const an=make('rect',{x:1965,y:b.top,width:31,height:b.h,fill:b.fill},g);
    
    
    const bl=make('rect',{x:1942,y:b.top,width:20,height:b.h,fill:'#080808'},g);
    
    
    b.series.forEach((col,c)=>{
      const rh=b.h/col.length;
      col.forEach((v,r)=>{
        const cell=make('rect',{x:colEdges[c],y:b.top+r*rh,width:colW[c],height:rh+0.6,fill:colorFor(v),'shape-rendering':'crispEdges'},g);
        
        
      });
    });
  });
  dColumns.forEach((name,c)=>{
    const t=make('text',{x:centers[c],y:3666,'class':'coll'},g);
    t.textContent=name;
    
    
  });
  const ga=make('rect',{x:2004,y:1755,width:621,height:29,fill:'#EC585C'},g);
  
  
  const gb=make('rect',{x:2636,y:1755,width:623,height:29,fill:'#62ADE0'},g);
  
  
  const top=make('path',{d:treePath(dColTree,i=>centers[i],(h,p)=>p+' '+(1753-h)+' '),fill:'none',stroke:'#333','stroke-width':3},g);
  
  
  const n1=countLeaves(dRowTreeDown),n2=countLeaves(dRowTreeUp);
  const leaf=i=>i<n1?1791+(i+0.5)*883/n1:2684+(i-n1+0.5)*941/n2;
  const side=make('path',{d:treePath([127,dRowTreeDown,dRowTreeUp],leaf,(h,p)=>(1962-h)+' '+p+' '),fill:'none',stroke:'#1c1c1c','stroke-width':3.5},g);
  
  
  const tickY=v=>1997.5-v*104;
  drawColorbar(g,'cbD',3273,1791,2202,dScaleTicks,tickY,3315);
})();
</script>
</body>
</html>
